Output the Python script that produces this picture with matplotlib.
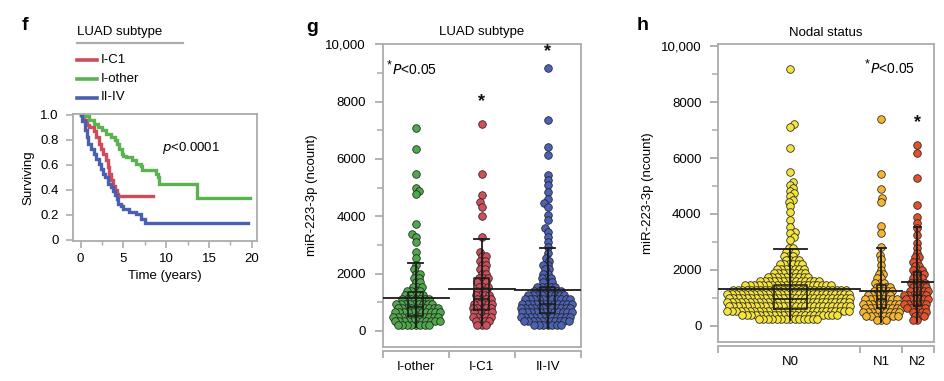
import numpy as np
import matplotlib
matplotlib.use("Agg")
import matplotlib.pyplot as plt
from matplotlib.ticker import FixedLocator, NullFormatter

plt.rcParams['font.family'] = ['Liberation Sans', 'DejaVu Sans']
plt.rcParams['font.size'] = 9.5

W, H = 944, 381
GRAY = '#ababab'

# ---------------- Panel f: Kaplan-Meier data ----------------
KM_GROUPS = ['I-C1', 'I-other', 'II-IV']
KM_COLORS = ['#d2495a', '#5bb34f', '#4a5fb3']
KM_T_IC1 = [0, 0.4, 0.7, 1.0, 1.5, 1.8, 2.1, 2.4, 2.65, 3.0, 3.2, 3.35, 3.5, 3.8, 4.0, 4.2, 4.4, 8.4]
KM_S_IC1 = [1.0, 0.96, 0.92, 0.90, 0.87, 0.82, 0.77, 0.73, 0.69, 0.64, 0.58, 0.53, 0.48, 0.43, 0.40, 0.37, 0.35, 0.35]
KM_T_IOTHER = [0, 0.5, 1.0, 1.5, 2.0, 2.5, 3.0, 3.5, 4.0, 4.3, 4.5, 4.8, 5.0, 5.3, 6.0, 6.5, 7.0, 7.2, 8.8, 9.0, 9.2, 13.6, 19.8]
KM_S_IOTHER = [1.0, 0.99, 0.96, 0.93, 0.90, 0.88, 0.85, 0.82, 0.80, 0.77, 0.73, 0.69, 0.67, 0.66, 0.64, 0.61, 0.59, 0.56, 0.53, 0.50, 0.45, 0.335, 0.335]
KM_T_IIIV = [0, 0.2, 0.5, 0.7, 0.9, 1.2, 1.5, 1.8, 2.1, 2.4, 2.65, 2.9, 3.2, 3.5, 3.8, 4.0, 4.2, 4.4, 4.7, 5.0, 5.6, 6.5, 7.1, 7.5, 19.5]
KM_S_IIIV = [1.0, 0.95, 0.88, 0.82, 0.77, 0.73, 0.69, 0.65, 0.61, 0.57, 0.53, 0.50, 0.45, 0.42, 0.39, 0.36, 0.33, 0.29, 0.27, 0.25, 0.225, 0.21, 0.17, 0.135, 0.135]

# ---------------- Panel g: LUAD subtype swarm data (value, count) ----------------
G_GROUPS = ['I-other', 'I-C1', 'II-IV']
G_COLORS = ['#4ea94a', '#d04f5d', '#4c62b4']
G_IOTHER = [(7090, 1), (6350, 1), (5465, 1), (5000, 1), (4885, 1), (4780, 1), (3730, 1), (3370, 1),
            (3290, 1), (3115, 1), (2770, 1), (2535, 1),
            (2300, 1), (2150, 1), (2000, 2), (1850, 2), (1700, 2), (1550, 3), (1400, 4), (1250, 5),
            (1100, 7), (950, 9), (800, 10), (650, 11), (500, 11), (350, 11), (200, 8)]
G_IC1 = [(7220, 1), (5475, 1), (4745, 1), (4490, 1), (4340, 1), (4010, 1), (3290, 1),
         (2750, 1), (2600, 2), (2450, 2), (2300, 2), (2150, 2), (2000, 2), (1850, 3), (1700, 3),
         (1550, 3), (1400, 3), (1250, 4), (1100, 4), (950, 5), (800, 5), (650, 5), (500, 5),
         (350, 4), (200, 3)]
G_IIIV = [(9160, 1), (7360, 1), (6430, 1), (6140, 1), (5440, 1), (5265, 1), (5090, 1), (4860, 1),
          (4590, 1), (4450, 1), (4340, 1), (4050, 1), (3870, 1), (3580, 1), (3460, 1), (3290, 1),
          (3115, 1), (2940, 1), (2710, 1), (2560, 1),
          (2450, 1), (2300, 2), (2150, 2), (2000, 2), (1850, 3), (1700, 3), (1550, 5), (1400, 7),
          (1250, 9), (1100, 11), (950, 12), (800, 12), (650, 12), (500, 12), (350, 11), (200, 7)]
G_MEAN = [1160, 1455, 1430]
G_MED = [850, 1100, 950]
G_Q1 = [520, 730, 620]
G_Q3 = [1350, 1860, 1550]
G_WHI = [2380, 3210, 2880]
G_WLO = [150, 200, 120]
G_STARS = [None, 8000, 9750]

# ---------------- Panel h: Nodal status swarm data (value, count) ----------------
H_GROUPS = ['N0', 'N1', 'N2']
H_COLORS = ['#f4e43c', '#f6b52e', '#e0522b']
H_N0 = [(9180, 1), (7210, 1), (7100, 1), (6370, 1), (5490, 1), (5150, 1), (5040, 1), (4930, 1),
        (4830, 1), (4740, 1), (4640, 1), (4510, 1), (4440, 1), (4290, 1), (4080, 1), (3790, 1),
        (3550, 1), (3370, 1), (3310, 1), (3170, 1), (3070, 1),
        (2800, 2), (2650, 3), (2500, 3), (2350, 4), (2200, 6), (2050, 7), (1900, 8), (1750, 10),
        (1600, 14), (1450, 20), (1300, 26), (1150, 28), (1000, 28), (850, 28), (700, 28),
        (550, 28), (400, 22), (250, 14)]
H_N1 = [(7390, 1), (5430, 1), (4880, 1), (4580, 1), (4420, 1), (3570, 1), (3330, 1), (2830, 1),
        (2540, 1), (2390, 1), (2180, 1),
        (2000, 1), (1850, 2), (1700, 2), (1550, 3), (1400, 4), (1250, 5), (1100, 6), (950, 8),
        (800, 9), (650, 9), (500, 9), (350, 8), (200, 3)]
H_N2 = [(6460, 1), (6170, 1), (5300, 1), (4320, 1), (3900, 1), (3670, 1), (3510, 1), (3250, 1),
        (2950, 1), (2770, 1),
        (2600, 1), (2450, 2), (2300, 2), (2150, 2), (2000, 3), (1850, 3), (1700, 3), (1550, 4),
        (1400, 4), (1250, 5), (1100, 6), (950, 6), (800, 6), (650, 5), (500, 4), (350, 3), (200, 2)]
H_MEAN = [1310, 1260, 1570]
H_MED = [950, 950, 1100]
H_Q1 = [600, 640, 700]
H_Q3 = [1460, 1460, 1940]
H_WHI = [2740, 2780, 3550]
H_WLO = [200, 150, 150]
H_STARS = [None, None, 7250]

fig = plt.figure(figsize=(W / 100, H / 100), dpi=100)


def ftext(x, y, s, **kw):
    fig.text(x / W, 1 - y / H, s, **kw)


def add_axes_px(left, top, right, bottom):
    return fig.add_axes([left / W, 1 - bottom / H, (right - left) / W, (bottom - top) / H])


def expand(pairs):
    return np.repeat([p[0] for p in pairs], [p[1] for p in pairs]).astype(float)


def swarm_offsets(ypx, s):
    order = np.argsort(ypx, kind='stable')
    xs = np.zeros(len(ypx))
    px_list, py_list = [], []
    flip = 1
    for i in order:
        y = ypx[i]
        ivs = []
        for qx, qy in zip(px_list, py_list):
            dy = abs(qy - y)
            if dy < s:
                dx = np.sqrt(s * s - dy * dy)
                ivs.append((qx - dx, qx + dx))
        cands = [0.0] + [a for a, b in ivs] + [b for a, b in ivs]
        cands.sort(key=lambda c: (round(abs(c), 6), -flip * c))
        x = 0.0
        for c in cands:
            if all(not (a + 1e-6 < c < b - 1e-6) for a, b in ivs):
                x = c
                break
        flip = -flip
        xs[i] = x
        px_list.append(x)
        py_list.append(y)
    return xs


def style_swarm_axes(ax, bounds, centers, labels, ylim):
    ax.set_xlim(bounds[0], bounds[-1])
    ax.set_ylim(*ylim)
    for sp in ax.spines.values():
        sp.set_color(GRAY)
        sp.set_linewidth(1.3)
    ax.spines['bottom'].set_position(('outward', 3))
    ax.plot([0, 1], [0, 0], transform=ax.transAxes, color=GRAY, lw=1.3, clip_on=False, zorder=5)
    ax.xaxis.set_major_locator(FixedLocator(bounds))
    ax.xaxis.set_major_formatter(NullFormatter())
    ax.xaxis.set_minor_locator(FixedLocator(centers))
    ax.set_xticklabels(labels, minor=True)
    ax.tick_params(axis='x', which='major', direction='out', length=5, color=GRAY, width=1.3)
    ax.tick_params(axis='x', which='minor', length=0, pad=7, labelsize=9.5)
    ax.yaxis.set_major_locator(FixedLocator([0, 2000, 4000, 6000, 8000, 10000]))
    ax.set_yticklabels(['0', '2000', '4000', '6000', '8000', '10,000'])
    ax.yaxis.set_minor_locator(FixedLocator([1000, 3000, 5000, 7000, 9000]))
    ax.tick_params(axis='y', which='major', direction='out', length=6, color=GRAY, width=1.3,
                   labelsize=9.5, pad=6)
    ax.tick_params(axis='y', which='minor', direction='out', length=4, color=GRAY, width=1.1)


def draw_groups(ax, groups_data, colors, bounds, centers, means, meds, q1, q3, whi, wlo, stars,
                spacing, box_frac):
    pos = ax.get_position()
    ax_w_px = pos.width * W
    ax_h_px = pos.height * H
    x0, x1 = ax.get_xlim()
    y0, y1 = ax.get_ylim()
    xpp = ax_w_px / (x1 - x0)
    ypp = ax_h_px / (y1 - y0)
    for k, pairs in enumerate(groups_data):
        vals = expand(pairs)
        offs = swarm_offsets(vals * ypp, spacing)
        ax.scatter(centers[k] + offs / xpp, vals, s=30, c=colors[k], edgecolors='#222222',
                   linewidths=0.55, zorder=3, clip_on=False)
        secw = bounds[k + 1] - bounds[k]
        bw = secw * box_frac
        cx = centers[k]
        lc = '#1a1a1a'
        ax.plot([bounds[k], bounds[k + 1]], [means[k], means[k]], color=lc, lw=1.3, zorder=6)
        ax.plot([cx, cx], [wlo[k], whi[k]], color=lc, lw=1.3, zorder=6)
        ax.plot([cx - bw / 2, cx + bw / 2], [whi[k], whi[k]], color=lc, lw=1.3, zorder=6)
        ax.plot([cx - bw / 2, cx + bw / 2, cx + bw / 2, cx - bw / 2, cx - bw / 2],
                [q1[k], q1[k], q3[k], q3[k], q1[k]], color=lc, lw=1.1, zorder=6)
        ax.plot([cx - bw / 2, cx + bw / 2], [meds[k], meds[k]], color=lc, lw=1.1, zorder=6)
        if stars[k] is not None:
            ax.text(cx, stars[k], '*', ha='center', va='center', fontsize=13, fontweight='bold',
                    color='#111111', zorder=7)


# ================= Panel f =================
axf = add_axes_px(72.7, 114, 257, 241)
km_t = [KM_T_IC1, KM_T_IOTHER, KM_T_IIIV]
km_s = [KM_S_IC1, KM_S_IOTHER, KM_S_IIIV]
for t, s_, c in zip(km_t, km_s, KM_COLORS):
    axf.step(t, s_, where='post', color=c, lw=2.4, solid_joinstyle='miter')
axf.set_xlim(-0.93, 20.6)
axf.set_ylim(-0.008, 1.008)
for sp in axf.spines.values():
    sp.set_color(GRAY)
    sp.set_linewidth(1.3)
axf.set_xticks([0, 5, 10, 15, 20])
axf.set_xticks([2.5, 7.5, 12.5, 17.5], minor=True)
axf.set_yticks([0, 0.2, 0.4, 0.6, 0.8, 1.0])
axf.set_yticklabels(['0', '0.2', '0.4', '0.6', '0.8', '1.0'])
axf.tick_params(which='major', direction='out', length=5, color=GRAY, width=1.2, labelsize=9.5)
axf.tick_params(which='minor', direction='out', length=3, color=GRAY, width=1.0)
axf.tick_params(axis='x', pad=4)
axf.tick_params(axis='y', pad=5)
axf.set_xlabel('Time (years)', fontsize=9.5, labelpad=3)
axf.set_ylabel('Surviving', fontsize=9.5, labelpad=4)
axf.text(0.485, 0.73, r'$\it{p}$<0.0001', transform=axf.transAxes, fontsize=9.5, va='center')

# legend of panel f
ftext(77, 32, 'LUAD subtype', fontsize=9.5, va='center', ha='left')
fig.add_artist(plt.Line2D([77 / W, 183 / W], [1 - 42.7 / H, 1 - 42.7 / H], color=GRAY, lw=1.6))
for lab, col, yy in zip(['I-C1', 'I-other', 'II-IV'], KM_COLORS, [60, 79, 97.5]):
    fig.add_artist(plt.Line2D([77 / W, 97 / W], [1 - yy / H, 1 - yy / H], color=col, lw=2.6))
    ftext(100.5, yy, lab, fontsize=9.5, va='center', ha='left')
ftext(22, 25, 'f', fontsize=14, fontweight='bold', va='center', ha='left')

# ================= Panel g =================
axg = add_axes_px(382.7, 43.5, 580.7, 346.7)
g_bounds = [0, 66, 132, 198]
g_centers = [33, 99, 165]
style_swarm_axes(axg, g_bounds, g_centers, G_GROUPS, (-548, 10028))
draw_groups(axg, [G_IOTHER, G_IC1, G_IIIV], G_COLORS, g_bounds, g_centers, G_MEAN, G_MED, G_Q1, G_Q3,
            G_WHI, G_WLO, G_STARS, spacing=4.5, box_frac=0.23)
axg.set_ylabel('miR-223-3p (ncount)', fontsize=9.5, labelpad=5)
axg.set_title('LUAD subtype', fontsize=9.5, pad=6)
ftext(386.5, 65, '*', fontsize=9, va='center', ha='left')
ftext(392, 70, r'$\it{P}$<0.05', fontsize=10, va='center', ha='left')
ftext(306, 27, 'g', fontsize=14, fontweight='bold', va='center', ha='left')

# ================= Panel h =================
axh = add_axes_px(718.3, 44.3, 933.5, 341.7)
h_bounds = [0, 142, 184, 215]
h_centers = [72, 163, 199]
style_swarm_axes(axh, h_bounds, h_centers, H_GROUPS, (-561, 10061))
draw_groups(axh, [H_N0, H_N1, H_N2], H_COLORS, h_bounds, h_centers, H_MEAN, H_MED, H_Q1, H_Q3,
            H_WHI, H_WLO, H_STARS, spacing=4.5, box_frac=0.23)
axh.set_ylabel('miR-223-3p (ncount)', fontsize=9.5, labelpad=5)
axh.set_title('Nodal status', fontsize=9.5, pad=6)
ftext(864.5, 64, '*', fontsize=9, va='center', ha='left')
ftext(870, 69, r'$\it{P}$<0.05', fontsize=10, va='center', ha='left')
ftext(637, 26, 'h', fontsize=14, fontweight='bold', va='center', ha='left')

fig.savefig('out.png', dpi=100)
